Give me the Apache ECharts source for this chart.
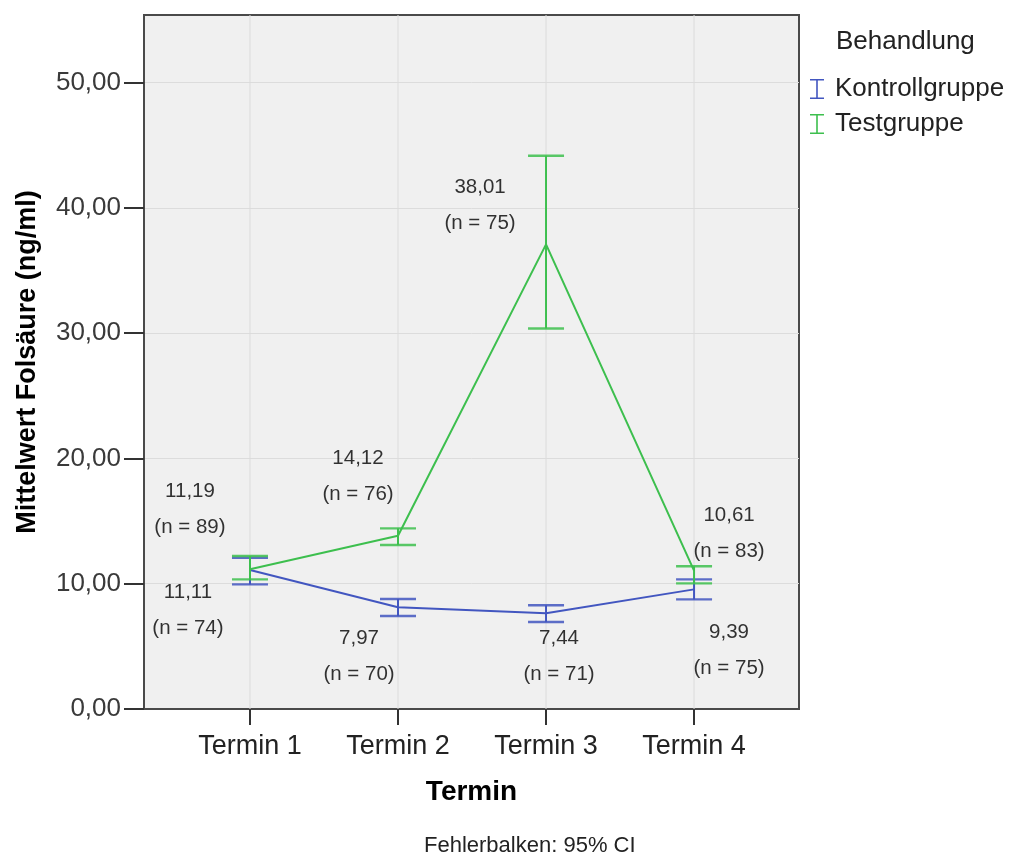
<!DOCTYPE html>
<html>
<head>
<meta charset="utf-8">
<script src="https://cdn.jsdelivr.net/npm/echarts@6/dist/echarts.min.js"></script>
<style>
html,body{margin:0;padding:0;background:#fff;}
#c{width:1010px;height:856px;}
</style>
</head>
<body>
<div id="c"></div>
<script>
// ---- data ----
const termine = [1, 2, 3, 4];
const terminLabels = ['Termin 1', 'Termin 2', 'Termin 3', 'Termin 4'];
const yTicks = [0, 10, 20, 30, 40, 50];

const kontrollMean = [11.09, 8.12, 7.64, 9.55];
const kontrollLow  = [9.95, 7.42, 6.94, 8.75];
const kontrollHigh = [12.07, 8.78, 8.28, 10.35];
const kontrollLabelValue = [11.11, 7.97, 7.44, 9.39];
const kontrollN = [74, 70, 71, 75];

const testMean = [11.15, 13.83, 37.09, 11.05];
const testLow  = [10.35, 13.09, 30.38, 10.03];
const testHigh = [12.21, 14.42, 44.16, 11.39];
const testLabelValue = [11.19, 14.12, 38.01, 10.61];
const testN = [89, 76, 75, 83];

const groups = ['Kontrollgruppe', 'Testgruppe'];

// ---- styling / layout ----
const BLUE = '#4256c0';
const GREEN = '#3dbf4e';
const FONT = '"Liberation Sans", Arial, sans-serif';
const Y_MAX = 55.4;
const kontrollLabelShift = [[-62, 40], [-39, 49], [13, 43], [35, 61]];
const testLabelShift = [[-60, -60], [-40, -59], [-66, -39], [35, -37]];

const fmt = v => v.toFixed(2).replace('.', ',');
const zip2 = (a, b) => a.map((v, i) => [a[i], b[i]]);

function errorBarSeries(name, color, low, high, z) {
  return {
    name: name,
    type: 'custom',
    z: z,
    itemStyle: { color: color },
    data: termine.map((x, i) => [x, low[i], high[i]]),
    encode: { x: 0, y: [1, 2] },
    renderItem: function (params, api) {
      const x = api.value(0);
      const pLo = api.coord([x, api.value(1)]);
      const pHi = api.coord([x, api.value(2)]);
      const hw = 18;
      const st = { stroke: color, lineWidth: 2 };
      const cap = { stroke: color, lineWidth: 2.4, opacity: 0.85 };
      return {
        type: 'group',
        children: [
          { type: 'line', shape: { x1: pLo[0], y1: pLo[1], x2: pHi[0], y2: pHi[1] }, style: st },
          { type: 'line', shape: { x1: pLo[0] - hw, y1: pLo[1], x2: pLo[0] + hw, y2: pLo[1] }, style: cap },
          { type: 'line', shape: { x1: pHi[0] - hw, y1: pHi[1], x2: pHi[0] + hw, y2: pHi[1] }, style: cap }
        ]
      };
    }
  };
}

function labelSeries(id, means, labelVals, ns, shifts) {
  const base = {
    show: true,
    position: 'inside',
    color: '#000',
    fontFamily: FONT,
    fontSize: 20.5,
    lineHeight: 36,
    align: 'center',
    verticalAlign: 'middle'
  };
  return {
    id: id,
    type: 'scatter',
    silent: true,
    z: 5,
    symbolSize: 0,
    itemStyle: { color: 'rgba(0,0,0,0)' },
    data: termine.map((x, i) => ({
      value: [x, means[i]],
      label: Object.assign({}, base, {
        offset: shifts[i],
        formatter: fmt(labelVals[i]) + '\n(n = ' + ns[i] + ')'
      })
    })),
    label: base
  };
}

const iIcon = 'path://M0,0H14V1.6H7.8V18.4H14V20H0V18.4H6.2V1.6H0Z';

const option = {
  animation: false,
  backgroundColor: '#ffffff',
  grid: {
    left: 144, top: 15, right: 211, bottom: 147,
    show: true, backgroundColor: '#f0f0f0', borderColor: '#4a4a4a', borderWidth: 2
  },
  xAxis: {
    type: 'value',
    min: 0.284, max: 4.709,
    name: 'Termin',
    nameLocation: 'middle',
    nameGap: 69,
    nameTextStyle: { fontFamily: FONT, fontSize: 28, fontWeight: 'bold', color: '#000' },
    axisLine: { show: true, lineStyle: { color: '#4a4a4a', width: 2 } },
    axisTick: { show: true, length: 16, customValues: termine, lineStyle: { color: '#333', width: 2 } },
    axisLabel: {
      customValues: termine,
      margin: 24,
      fontFamily: FONT, fontSize: 27, color: '#222',
      formatter: v => terminLabels[termine.indexOf(Math.round(v))] || ''
    },
    splitLine: { show: false }
  },
  yAxis: {
    type: 'value',
    min: 0, max: Y_MAX, interval: 10,
    name: 'Mittelwert Folsäure (ng/ml)',
    nameLocation: 'middle',
    nameGap: 103,
    nameTextStyle: { fontFamily: FONT, fontSize: 27, fontWeight: 'bold', color: '#000' },
    axisLine: { show: true, lineStyle: { color: '#4a4a4a', width: 2 } },
    axisTick: { show: true, length: 20, customValues: yTicks, lineStyle: { color: '#333', width: 2 } },
    axisLabel: {
      customValues: yTicks,
      margin: 23,
      fontFamily: FONT, fontSize: 26, color: '#3a3a3a',
      formatter: v => fmt(v)
    },
    splitLine: { show: true, lineStyle: { color: '#dcdcdc', width: 1 } }
  },
  legend: {
    orient: 'vertical',
    left: 805, top: 71,
    itemWidth: 14, itemHeight: 20, itemGap: 9,
    textStyle: { fontFamily: FONT, fontSize: 26, color: '#222', padding: [0, 0, 0, 6] },
    data: [
      { name: groups[0], icon: iIcon, itemStyle: { color: BLUE } },
      { name: groups[1], icon: iIcon, itemStyle: { color: GREEN } }
    ]
  },
  graphic: [
    { type: 'text', left: 836, top: 29,
      style: { text: 'Behandlung', fontFamily: FONT, fontSize: 26, fill: '#222' } },
    { type: 'text', left: 424, top: 835,
      style: { text: 'Fehlerbalken: 95% CI', fontFamily: FONT, fontSize: 22, fill: '#222' } }
  ],
  series: [
    {
      id: 'vgrid',
      type: 'custom',
      silent: true,
      z: 1,
      data: termine.map(x => [x]),
      encode: { x: 0 },
      renderItem: function (params, api) {
        const x = api.value(0);
        const a = api.coord([x, 0]);
        const b = api.coord([x, Y_MAX]);
        return { type: 'line', shape: { x1: a[0], y1: a[1], x2: b[0], y2: b[1] },
                 style: { stroke: '#dcdcdc', lineWidth: 1 } };
      }
    },
    {
      name: groups[0], type: 'line', z: 3,
      data: zip2(termine, kontrollMean),
      symbol: 'none',
      itemStyle: { color: BLUE },
      lineStyle: { color: BLUE, width: 2 }
    },
    errorBarSeries(groups[0], BLUE, kontrollLow, kontrollHigh, 3),
    {
      name: groups[1], type: 'line', z: 4,
      data: zip2(termine, testMean),
      symbol: 'none',
      itemStyle: { color: GREEN },
      lineStyle: { color: GREEN, width: 2 }
    },
    errorBarSeries(groups[1], GREEN, testLow, testHigh, 4),
    labelSeries('lblK', kontrollMean, kontrollLabelValue, kontrollN, kontrollLabelShift),
    labelSeries('lblT', testMean, testLabelValue, testN, testLabelShift)
  ]
};

const chart = echarts.init(document.getElementById('c'), null, { renderer: 'canvas' });
chart.setOption(option);
</script>
</body>
</html>
